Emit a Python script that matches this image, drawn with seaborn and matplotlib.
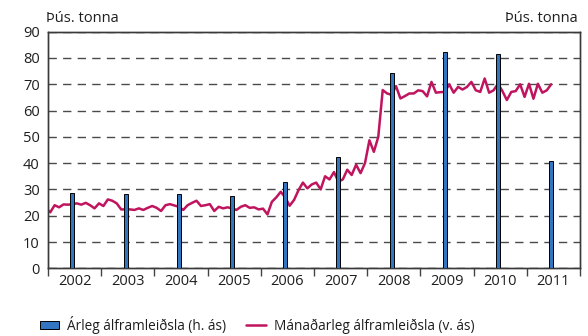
import numpy as np
import pandas as pd
import matplotlib
matplotlib.use("Agg")
import matplotlib.pyplot as plt
import seaborn as sns
from matplotlib.patches import Patch
from matplotlib.lines import Line2D
from matplotlib.ticker import FixedLocator, NullFormatter, FixedFormatter

# Monthly aluminium production (thousand tonnes), Dec 2001 - Jun 2011
monthly_start = "2001-12-01"
monthly = [
    22.8,
    21.3, 24.0, 23.2, 24.3, 24.2, 24.4, 24.7, 24.2, 24.9, 24.0, 22.8, 24.7,  # 2002
    23.7, 26.2, 25.7, 24.7, 22.4, 22.4, 22.4, 22.2, 22.8, 22.2, 23.0, 23.7,  # 2003
    23.0, 21.8, 24.0, 24.4, 23.9, 23.4, 22.2, 24.0, 24.9, 25.7, 23.7, 24.0,  # 2004
    24.4, 21.8, 23.4, 22.8, 23.2, 22.8, 22.2, 23.4, 24.0, 23.0, 23.2, 22.4,  # 2005
    22.7, 20.5, 25.3, 27.0, 29.1, 27.0, 23.8, 26.0, 29.7, 32.6, 30.4, 31.9,  # 2006
    32.6, 30.0, 35.0, 33.8, 36.6, 33.0, 33.8, 37.5, 35.5, 39.4, 36.2, 40.0,  # 2007
    48.7, 44.3, 50.0, 67.8, 66.5, 66.0, 69.3, 64.6, 65.5, 66.5, 66.5, 67.7,  # 2008
    67.4, 65.4, 70.9, 66.8, 67.0, 67.1, 70.0, 66.8, 69.0, 68.0, 69.0, 70.9,  # 2009
    67.7, 67.1, 72.2, 66.8, 67.7, 70.2, 67.4, 64.0, 67.1, 67.4, 70.0, 65.2,  # 2010
    70.2, 64.5, 70.2, 66.8, 67.7, 70.0,                                      # 2011
]

# Annual aluminium production (thousand tonnes, right axis)
years = [2002, 2003, 2004, 2005, 2006, 2007, 2008, 2009, 2010, 2011]
annual = [285, 281, 284, 276, 328, 422, 741, 821, 817, 408]

year_labels = [str(y) for y in years]
left_ticks = [0, 10, 20, 30, 40, 50, 60, 70, 80, 90]

line_color = "#c0145f"
bar_color = "#3275c0"
text_color = "#1e1e1e"
fs = 10.5
legend_fs = 9.8

months = pd.date_range(monthly_start, periods=len(monthly), freq="MS")
df_month = pd.DataFrame({
    "t": months.year + (months.month - 0.5) / 12.0,
    "value": monthly,
})
df_year = pd.DataFrame({"t": np.array(years) + 0.46, "value": annual})

sns.set_theme(style="white")
plt.rcParams["font.family"] = ["Open Sans", "DejaVu Sans"]
plt.rcParams["font.size"] = fs

fig = plt.figure(figsize=(5.88, 3.36), dpi=100)
ax = fig.add_axes([48 / 588, 1 - 268.3 / 336, 532 / 588, (268.3 - 31.7) / 336])

sns.lineplot(data=df_month, x="t", y="value", ax=ax, color=line_color,
             linewidth=1.8, zorder=3)

ax2 = ax.twinx()
sns.barplot(data=df_year, x="t", y="value", ax=ax2, native_scale=True,
            width=0.075, color=bar_color, edgecolor="black", linewidth=0.7,
            saturation=1, zorder=4)

ax.set_xlim(2002, 2012)
ax2.set_xlim(2002, 2012)
ax.set_ylim(0, 90)
ax2.set_ylim(0, 900)

ax.set_xlabel("")
ax.set_ylabel("")
ax2.set_xlabel("")
ax2.set_ylabel("")

# Year boundaries as ticks, labels centred on each year
ax.xaxis.set_major_locator(FixedLocator(np.arange(2002, 2013)))
ax.xaxis.set_major_formatter(NullFormatter())
ax.xaxis.set_minor_locator(FixedLocator(np.array(years) + 0.5))
ax.xaxis.set_minor_formatter(FixedFormatter(year_labels))
ax.tick_params(axis="x", which="major", direction="out", length=6,
               width=1.0, color="#444444", bottom=True)
ax.tick_params(axis="x", which="minor", length=0, pad=4,
               labelsize=fs, labelcolor=text_color)

ax.set_yticks(left_ticks)
ax.tick_params(axis="y", length=0, pad=6, labelsize=fs, labelcolor=text_color)
ax2.set_yticks([])
ax2.tick_params(axis="both", length=0)

ax.yaxis.grid(True, linestyle=(0, (6, 4.5)), color="#4a4a4a", linewidth=1.0)
ax.set_axisbelow(True)

for a in (ax, ax2):
    for side in ("left", "right", "bottom", "top"):
        a.spines[side].set_color("#3a3a3a")
        a.spines[side].set_linewidth(1.0)
        a.spines[side].set_visible(True)

fig.text(46 / 588, 1 - 18 / 336, "Þús. tonna", ha="left", va="center",
         fontsize=fs, color=text_color)
fig.text(578 / 588, 1 - 18 / 336, "Þús. tonna", ha="right", va="center",
         fontsize=fs, color=text_color)

handles = [
    Patch(facecolor=bar_color, edgecolor="black", linewidth=0.7),
    Line2D([], [], color=line_color, linewidth=1.8),
]
labels = ["Árleg álframleiðsla (h. ás)", "Mánaðarleg álframleiðsla (v. ás)"]
fig.legend(handles, labels, loc="center", bbox_to_anchor=(0.437, 0.033),
           ncol=2, frameon=False, fontsize=legend_fs, handlelength=1.45,
           handleheight=0.55, handletextpad=0.55, columnspacing=1.5,
           labelcolor=text_color)

fig.savefig("out.png", dpi=100)
